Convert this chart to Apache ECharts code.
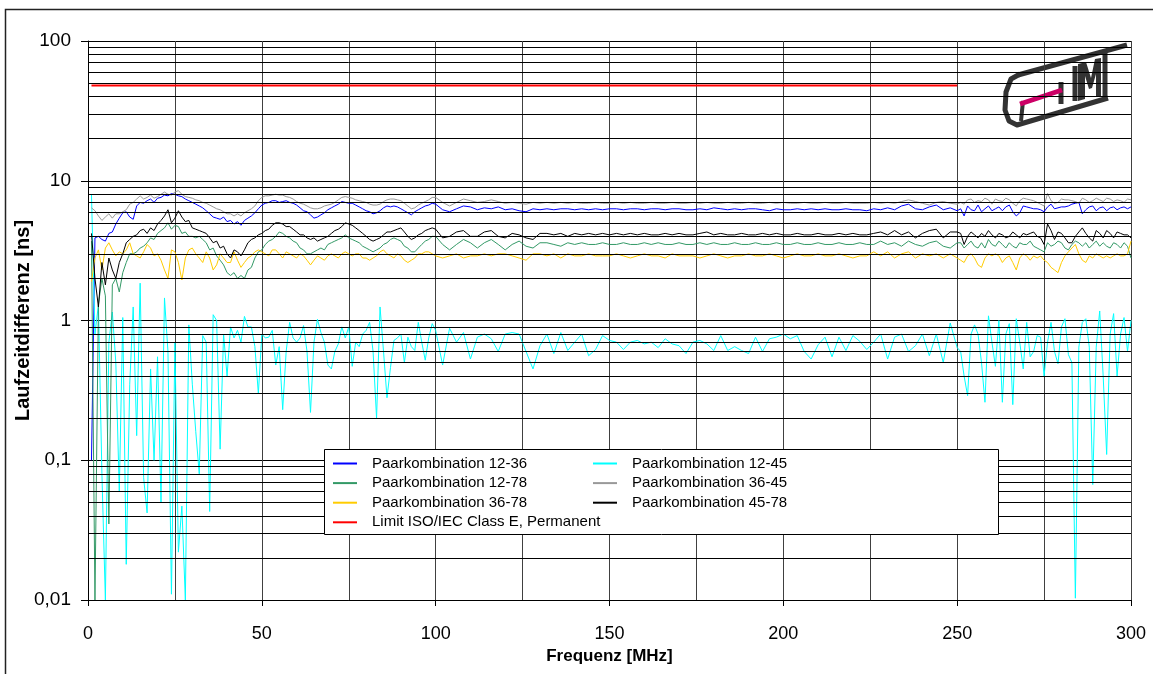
<!DOCTYPE html>
<html>
<head>
<meta charset="utf-8">
<script src="https://cdn.jsdelivr.net/npm/echarts@6/dist/echarts.min.js"></script>
<style>
html,body{margin:0;padding:0;background:#fff;}
#chart{width:1153px;height:674px;}
</style>
</head>
<body>
<div id="chart"></div>
<script>
// Frequency sample grid [MHz]
const freq = [
1,2,3,4,5,6,7,8,9,10,11,12,13,14,15,16,17,18,19,20,21,22,23,24,25,26,27,28,29,30,
31,32,33,34,35,36,37,38,39,40,41,42,43,44,45,46,47,48,49,50,51,52,53,54,55,56,57,58,59,60,
61,62,63,64,65,66,67,68,69,70,71,72,73,74,75,76,77,78,79,80,81,82,83,84,85,86,87,88,89,90,
91,92,93,94,95,96,97,98,99,100,
102,104,106,108,110,112,114,116,118,120,122,124,126,128,130,132,134,136,138,140,
142,144,146,148,150,152,154,156,158,160,162,164,166,168,170,172,174,176,178,180,
182,184,186,188,190,192,194,196,198,200,202,204,206,208,210,212,214,216,218,220,
222,224,226,228,230,232,234,236,238,240,242,244,246,248,250,
251,252,253,254,255,256,257,258,259,260,261,262,263,264,265,266,267,268,269,270,
271,272,273,274,275,276,277,278,279,280,281,282,283,284,285,286,287,288,289,290,
291,292,293,294,295,296,297,298,299,300];

const seriesNames = ['Paarkombination 12-36','Paarkombination 12-45','Paarkombination 12-78',
  'Paarkombination 36-45','Paarkombination 36-78','Paarkombination 45-78','Limit ISO/IEC Class E, Permanent'];

const pair1236 = [
0.1,3.9,4.0,3.8,3.7,4.2,4.3,4.9,5.4,5.9, 6.0,5.5,5.3,6.6,7.0,6.9,7.2,7.4,7.0,7.5,
7.6,7.9,7.8,8.1,8.0,7.8,7.7,7.4,7.2,7.0, 6.8,6.6,6.4,6.1,5.8,5.5,5.4,5.3,5.5,5.1,
5.2,4.9,5.1,4.8,5.2,5.4,5.6,5.9,6.3,6.7, 6.9,7.0,7.2,7.2,7.0,7.1,7.2,7.0,6.9,6.7,
6.4,6.1,6.0,5.7,5.4,5.5,5.7,5.9,6.2,6.4, 6.6,6.8,7.1,7.0,6.9,6.9,6.7,6.5,6.3,6.1,
6.0,5.8,5.9,6.1,6.4,6.6,6.5,6.6,6.5,6.3, 6.1,5.9,5.7,6.0,6.2,6.4,6.6,6.7,6.9,6.8,
6.2,6.0,6.3,6.6,6.5,6.2,6.4,6.3,6.5,6.2, 6.3,6.1,6.0,6.3,6.2,6.3,6.2,6.3,6.3,6.2,
6.3,6.2,6.3,6.2,6.3,6.3,6.2,6.3,6.3,6.2, 6.3,6.3,6.2,6.3,6.3,6.2,6.2,6.3,6.2,6.4,
6.3,6.2,6.3,6.2,6.3,6.3,6.2,6.1,6.3,6.2, 6.2,6.3,6.2,6.3,6.2,6.3,6.2,6.2,6.3,6.2,
6.2,6.1,6.3,6.2,6.4,6.2,6.6,6.8,6.3,6.2, 6.5,6.7,6.2,6.4,6.1,
6.3,5.6,6.6,6.2,6.1,6.7,6.0,6.3,6.6,6.1, 6.3,6.5,6.1,6.5,6.7,6.0,5.6,5.9,6.6,6.5,
6.4,6.3,6.3,6.2,6.0,6.5,6.8,6.3,6.4,6.5, 6.5,6.6,6.8,6.9,7.0,5.8,6.2,6.5,6.6,6.1,
6.4,6.5,6.1,6.4,6.5,6.2,6.4,6.5,6.3,6.5];

const pair1245 = [
8.0,0.8,1.3,0.08,0.01,0.7,1.15,0.5,0.06,1.05, 0.018,0.35,1.25,0.15,1.85,0.075,0.042,0.45,0.1,0.55,
0.05,1.45,0.6,0.011,0.7,0.022,0.047,0.01,0.93,0.35, 0.16,0.08,0.78,0.7,0.043,1.1,1.0,0.12,0.8,0.4,
0.9,0.75,0.85,0.7,1.07,0.9,0.9,0.65,0.3,0.8, 0.75,0.76,0.85,0.48,0.65,0.23,0.6,0.97,0.75,0.7,
0.75,0.92,0.6,0.22,0.7,1.02,0.82,0.7,0.48,0.45, 0.6,0.68,0.9,0.75,0.9,0.47,0.7,0.65,0.8,0.85,
0.97,0.6,0.2,1.25,0.6,0.28,0.46,0.72,0.75,0.8, 0.5,0.76,0.65,0.61,0.97,0.7,0.52,0.75,0.95,0.85,
0.48,0.88,0.7,0.82,0.53,0.76,0.8,0.74,0.6,0.8, 0.82,0.8,0.6,0.45,0.66,0.8,0.58,0.82,0.61,0.7,
0.8,0.56,0.62,0.78,0.72,0.7,0.62,0.7,0.72,0.68, 0.7,0.64,0.74,0.68,0.66,0.58,0.7,0.72,0.68,0.61,
0.78,0.61,0.65,0.61,0.58,0.76,0.6,0.74,0.76,0.8, 0.74,0.78,0.6,0.53,0.67,0.76,0.55,0.76,0.61,0.78,
0.71,0.62,0.7,0.8,0.53,0.76,0.8,0.6,0.66,0.8, 0.56,0.8,0.5,0.96,0.64,
0.6,0.4,0.29,0.8,0.93,0.8,0.5,0.26,1.08,0.7, 0.47,1.0,0.26,0.8,0.95,0.25,1.03,0.7,0.45,0.97,
0.55,0.6,0.78,0.76,0.4,0.7,0.97,0.6,0.49,0.9, 1.03,0.57,0.5,0.0103,0.645,0.97,1.03,0.645,0.067,0.645,
1.17,0.4,0.11,0.8,1.12,0.4,0.8,1.05,0.6,1.0];

const pair1278 = [
3.7,0.01,1.3,2.0,1.5,0.035,1.8,2.0,1.6,2.2, 2.6,3.0,3.0,3.1,3.3,3.4,3.6,3.9,3.8,4.2,
4.4,4.6,5.0,4.5,4.8,4.7,4.2,4.3,4.0,4.0, 3.9,4.0,3.8,3.6,3.2,3.3,2.9,2.7,2.5,2.2,
2.1,2.2,2.0,2.1,2.0,2.3,2.4,2.8,3.1,3.2, 3.5,3.7,3.8,4.0,4.3,4.2,4.0,3.9,3.7,3.6,
3.3,3.2,3.0,3.0,3.1,3.2,3.3,3.2,3.5,3.6, 3.7,3.8,3.9,4.1,3.9,3.8,3.7,3.6,3.4,3.3,
3.2,3.1,3.2,3.3,3.5,3.6,3.8,3.9,3.8,3.7, 3.4,3.3,3.1,3.1,3.3,3.5,3.7,3.8,4.0,4.0,
3.5,3.2,3.5,3.8,3.6,3.3,3.6,3.8,3.5,3.2, 3.5,3.7,3.4,3.3,3.6,3.6,3.5,3.4,3.6,3.5,
3.6,3.5,3.5,3.6,3.5,3.5,3.6,3.5,3.5,3.6, 3.5,3.6,3.5,3.5,3.6,3.5,3.5,3.6,3.5,3.6,
3.5,3.5,3.6,3.5,3.5,3.6,3.5,3.5,3.6,3.5, 3.5,3.6,3.5,3.5,3.6,3.5,3.5,3.6,3.5,3.5,
3.6,3.5,3.5,3.7,3.5,3.6,3.4,3.7,3.5,3.4, 3.6,3.7,3.4,3.3,3.6,
3.6,3.3,3.5,3.7,3.4,3.3,3.6,3.3,3.8,3.5, 3.4,3.7,3.5,3.3,3.6,3.4,3.3,3.6,3.5,3.5,
3.7,3.4,3.3,3.2,3.1,3.6,3.4,3.5,3.7,3.6, 3.3,3.2,3.5,3.7,3.6,3.4,3.6,3.3,3.5,3.7,
3.4,3.6,3.4,3.3,3.6,3.5,3.3,3.6,3.4,2.8];

const pair3645 = [
6.4,6.1,5.6,5.2,5.5,5.8,5.4,5.8,5.8,6.0, 6.2,6.8,7.0,7.4,7.8,7.4,7.6,7.9,7.5,7.7,
8.0,8.3,8.0,7.9,8.3,8.5,8.0,7.7,7.6,7.5, 7.3,7.2,7.0,6.9,6.7,6.5,6.3,6.2,6.0,5.8,
5.8,5.6,5.8,5.6,5.9,6.1,6.3,6.6,7.2,7.6, 7.8,7.8,7.9,8.0,7.9,7.9,7.7,7.6,7.4,7.1,
6.9,6.8,6.6,6.4,6.3,6.3,6.4,6.6,6.7,6.8, 7.0,7.3,7.6,7.7,7.6,7.5,7.3,7.2,7.1,7.0,
6.8,6.7,6.7,6.8,7.1,7.3,7.4,7.4,7.3,7.2, 6.9,6.6,6.3,6.4,6.7,6.9,7.1,7.3,7.6,7.6,
7.0,6.6,7.0,7.4,7.2,7.0,7.1,7.3,7.1,6.9, 7.0,6.9,6.8,7.0,6.9,7.0,6.9,7.0,6.9,7.0,
6.9,6.9,7.0,6.9,6.9,7.0,6.9,7.0,6.9,6.9, 7.0,6.9,6.9,7.0,6.9,6.9,7.0,6.9,7.0,6.9,
6.9,7.0,6.9,6.9,7.0,6.9,6.9,7.0,6.9,7.0, 6.9,6.9,7.0,6.9,6.9,7.0,6.9,6.9,7.0,6.9,
6.9,6.9,7.0,6.9,7.0,6.9,7.1,7.3,7.1,6.9, 6.7,7.0,7.1,6.9,6.8,
7.0,6.8,7.3,7.4,7.0,7.2,7.1,7.5,7.3,6.8, 7.4,7.2,7.1,7.5,7.3,6.9,6.6,7.2,7.5,7.4,
7.3,7.2,7.0,6.8,6.6,8.1,7.2,6.9,7.0,7.4, 7.3,7.3,7.2,7.1,6.9,7.5,7.3,7.0,7.2,7.5,
7.3,7.1,7.5,7.4,7.1,7.3,7.2,7.0,7.4,7.3];

const pair3678 = [
1.9,2.8,3.2,2.3,3.3,3.6,3.2,2.9,3.1,3.0, 3.2,3.6,3.0,2.9,2.8,3.1,3.5,3.3,2.9,3.0,
2.7,2.3,2.0,3.2,3.1,2.6,1.95,2.8,3.2,3.3, 3.0,2.8,2.6,3.1,2.8,2.3,2.5,3.0,2.8,2.6,
2.6,3.1,2.7,2.4,2.6,2.8,2.9,3.1,3.2,3.1, 3.0,2.9,3.2,3.2,3.0,2.8,3.1,3.0,2.9,2.8,
3.0,2.9,2.7,2.5,2.7,2.9,2.8,2.7,2.9,3.0, 2.9,2.8,3.0,3.1,3.0,2.9,3.0,3.0,2.8,2.8,
2.7,2.8,2.9,3.1,3.2,3.0,2.9,2.8,3.0,2.9, 2.7,2.6,2.7,2.8,3.0,3.0,3.1,3.1,3.0,2.9,
2.8,2.9,3.0,2.8,2.9,2.9,3.0,2.9,3.0,3.0, 2.9,2.8,2.7,3.0,3.0,2.9,3.0,2.8,3.0,2.9,
2.9,3.0,2.9,2.9,2.9,3.0,2.9,2.8,2.9,3.0, 2.9,2.9,2.8,3.0,2.9,2.9,2.9,2.8,2.9,3.0,
2.9,2.8,2.9,2.9,3.0,2.9,2.9,3.0,2.9,2.8, 2.9,3.0,2.9,2.9,3.0,2.9,2.9,3.0,2.9,2.8,
2.9,2.9,3.1,2.9,3.1,2.8,3.0,3.1,2.8,3.0, 2.9,3.0,2.8,3.0,2.8,
2.7,2.6,2.9,3.0,2.8,2.5,2.4,2.8,3.0,2.9, 3.0,2.9,2.6,2.8,2.9,2.6,2.3,2.8,3.0,2.9,
2.7,2.9,2.8,2.9,2.7,2.6,2.4,2.3,2.2,2.6, 2.9,3.1,3.3,3.5,3.0,2.7,2.6,2.9,2.8,3.0,
2.9,2.8,2.9,2.8,2.9,3.0,2.9,2.9,3.0,3.7];

const pair4578 = [
4.2,2.0,1.25,2.6,1.8,2.8,2.3,2.0,2.6,3.0, 3.6,3.8,4.0,4.1,4.4,4.5,4.2,4.6,4.4,4.9,
5.2,5.6,6.2,5.0,5.4,6.1,5.5,5.1,5.2,4.6, 4.5,4.4,4.3,4.2,3.9,3.6,3.7,3.3,3.4,3.0,
2.8,3.2,3.1,2.9,3.2,3.6,3.8,3.9,4.1,4.2, 4.4,4.5,4.8,5.0,5.0,4.9,4.7,4.7,4.5,4.3,
4.1,4.1,3.9,3.8,3.9,3.7,3.8,3.9,4.0,4.2, 4.4,4.5,4.7,5.0,4.9,4.8,4.6,4.4,4.2,4.0,
3.8,3.7,3.8,3.9,4.1,4.3,4.3,4.4,4.5,4.6, 4.3,4.0,3.8,3.9,4.1,4.2,4.4,4.5,4.6,4.5,
3.9,4.0,4.3,4.4,4.0,4.0,4.3,4.4,4.0,3.9, 4.2,4.1,3.9,3.8,4.2,4.2,4.1,4.2,4.0,4.2,
4.1,4.2,4.1,4.2,4.1,4.2,4.1,4.2,4.1,4.2, 4.1,4.1,4.2,4.1,4.2,4.1,4.1,4.2,4.3,4.1,
4.2,4.1,4.1,4.2,4.1,4.1,4.2,4.1,4.2,4.1, 4.1,4.2,4.1,4.1,4.2,4.1,4.1,4.2,4.1,4.2,
4.1,4.1,4.2,4.3,4.1,4.4,4.1,4.3,3.9,4.2, 4.4,4.5,3.9,4.3,4.3,
4.2,3.5,4.0,4.3,4.1,3.9,4.2,4.0,4.4,4.1, 3.9,4.2,4.1,3.9,4.0,4.3,4.1,3.9,4.2,4.1,
4.2,4.3,4.0,3.9,3.5,4.9,4.4,3.8,4.3,4.2, 3.9,3.6,3.6,4.0,4.3,4.6,4.2,3.9,3.7,4.4,
4.2,3.9,4.4,4.2,3.9,4.3,4.2,4.1,4.1,3.9];

const limitFreq = [1, 250];
const limitValue = [48, 48];

// y-axis tick labels (decades)
const yTickLabels = {0.01:'0,01', 0.1:'0,1', 1:'1', 10:'10', 100:'100'};

// horizontal grid at 2..9 per decade
const minorGrid = [];
[0.01, 0.1, 1, 10].forEach(function (d) {
  for (let m = 2; m <= 9; m++) minorGrid.push({ yAxis: +(m * d).toPrecision(2) });
});

function pairs(vals) { return freq.map(function (f, i) { return [f, vals[i]]; }); }

const FONT = 'Liberation Sans, Arial, sans-serif';
const colors = ['#0000FF', '#00FFFF', '#339966', '#999999', '#FFCC00', '#000000', '#FF0000'];
const dataSets = [pair1236, pair1245, pair1278, pair3645, pair3678, pair4578];

const chart = echarts.init(document.getElementById('chart'), null, { renderer: 'canvas' });

const series = [{
  name: 'gridlines', type: 'line', z: 1, silent: true, symbol: 'none',
  data: limitFreq.map(function (f, i) { return [f, limitValue[i]]; }),
  lineStyle: { opacity: 0 },
  markLine: {
    silent: true, symbol: ['none', 'none'], animation: false,
    label: { show: false },
    lineStyle: { color: '#000', width: 1, type: 'solid' },
    emphasis: { disabled: true },
    data: minorGrid
  }
}];
dataSets.forEach(function (vals, i) {
  series.push({
    name: seriesNames[i], type: 'line', symbol: 'none', showSymbol: false,
    data: pairs(vals), color: colors[i],
    lineStyle: { color: colors[i], width: 1 }, z: 2 + i * 0.01
  });
});
series.push({
  name: seriesNames[6], type: 'line', symbol: 'none', showSymbol: false,
  data: limitFreq.map(function (f, i) { return [f, limitValue[i]]; }),
  color: colors[6], lineStyle: { color: colors[6], width: 2 }, z: 3
});

const legendBase = {
  orient: 'vertical', top: 451, itemWidth: 24, itemHeight: 2, itemGap: 4.6, z: 60,
  icon: 'rect',
  textStyle: { fontSize: 15, fontFamily: FONT, color: '#000', padding: [0, 0, 0, 10], lineHeight: 15 },
  selectedMode: false
};

const option = {
  animation: false,
  backgroundColor: '#fff',
  grid: { left: 88, right: 22, top: 41, bottom: 74, containLabel: false, outerBoundsMode: 'none' },
  xAxis: {
    type: 'value', min: 0, max: 300, interval: 50,
    name: 'Frequenz [MHz]', nameLocation: 'middle', nameGap: 48, nameMoveOverlap: false,
    nameTextStyle: { fontFamily: FONT, fontWeight: 'bold', fontSize: 17, color: '#000' },
    axisLine: { show: true, onZero: false, lineStyle: { color: '#000', width: 1 } },
    axisTick: { show: true, length: 6, lineStyle: { color: '#000' } },
    axisLabel: { fontFamily: FONT, fontSize: 18, color: '#000', margin: 25 },
    splitLine: { show: true, lineStyle: { color: '#404040', width: 1 } },
    minorTick: { show: false, splitNumber: 2 },
    minorSplitLine: { show: true, lineStyle: { color: '#404040', width: 1 } }
  },
  yAxis: {
    type: 'log', logBase: 10, min: 0.01, max: 100,
    name: 'Laufzeitdifferenz [ns]', nameLocation: 'middle', nameGap: 55, nameMoveOverlap: false,
    nameTextStyle: { fontFamily: FONT, fontWeight: 'bold', fontSize: 20, color: '#000' },
    axisLine: { show: true, lineStyle: { color: '#000', width: 1 } },
    axisTick: { show: true, length: 7, lineStyle: { color: '#000' } },
    axisLabel: {
      fontFamily: FONT, fontSize: 19, color: '#000', margin: 17,
      formatter: function (v) {
        const key = +(+v).toPrecision(1);
        return yTickLabels[key] !== undefined ? yTickLabels[key] : String(key).replace('.', ',');
      }
    },
    splitLine: { show: true, lineStyle: { color: '#000', width: 1 } },
    minorSplitLine: { show: false }
  },
  legend: [
    Object.assign({}, legendBase, { left: 328,
      data: [seriesNames[0], seriesNames[2], seriesNames[4], seriesNames[6]] }),
    Object.assign({}, legendBase, { left: 588,
      data: [seriesNames[1], seriesNames[3], seriesNames[5]] })
  ],
  graphic: [
    { type: 'rect', z: 100, silent: true,
      shape: { x: 5.5, y: 9.5, width: 1400, height: 900 },
      style: { fill: 'none', stroke: '#222', lineWidth: 1.5 } },
    { type: 'rect', z: 50, silent: true,
      shape: { x: 324.5, y: 449.5, width: 674, height: 85 },
      style: { fill: '#fff', stroke: '#000', lineWidth: 1 } },
    { type: 'group', z: 40, silent: true, children: [
      { type: 'polyline', shape: { points: [[1018, 75], [1127, 45]] }, style: { stroke: '#333', lineWidth: 5, fill: 'none' } },
      { type: 'polyline', shape: { points: [[1020, 74], [1011, 79], [1006, 92], [1005, 110], [1009, 121], [1017, 125], [1108, 98]] },
        style: { stroke: '#333', lineWidth: 5, fill: 'none', lineJoin: 'round' } },
      { type: 'polyline', shape: { points: [[1023, 101], [1021, 121]] }, style: { stroke: '#333', lineWidth: 4, fill: 'none' } },
      { type: 'polyline', shape: { points: [[1061, 82], [1061, 104]] }, style: { stroke: '#333', lineWidth: 5, fill: 'none' } },
      { type: 'polyline', shape: { points: [[1075, 66], [1075, 101]] }, style: { stroke: '#333', lineWidth: 5, fill: 'none' } },
      { type: 'polygon', shape: { points: [[1078, 64], [1086, 62], [1091, 78], [1095, 59], [1101, 58], [1101, 96], [1096, 97], [1096, 74], [1092, 88], [1089, 89], [1085, 76], [1085, 99], [1078, 101]] },
        style: { fill: '#333' } },
      { type: 'polyline', shape: { points: [[1105, 52], [1105, 97]] }, style: { stroke: '#333', lineWidth: 5, fill: 'none' } },
      { type: 'polyline', shape: { points: [[1020, 104], [1062, 90]] }, style: { stroke: '#CC0066', lineWidth: 5, fill: 'none' } }
    ] }
  ],
  series: series
};
chart.setOption(option);
</script>
</body>
</html>
